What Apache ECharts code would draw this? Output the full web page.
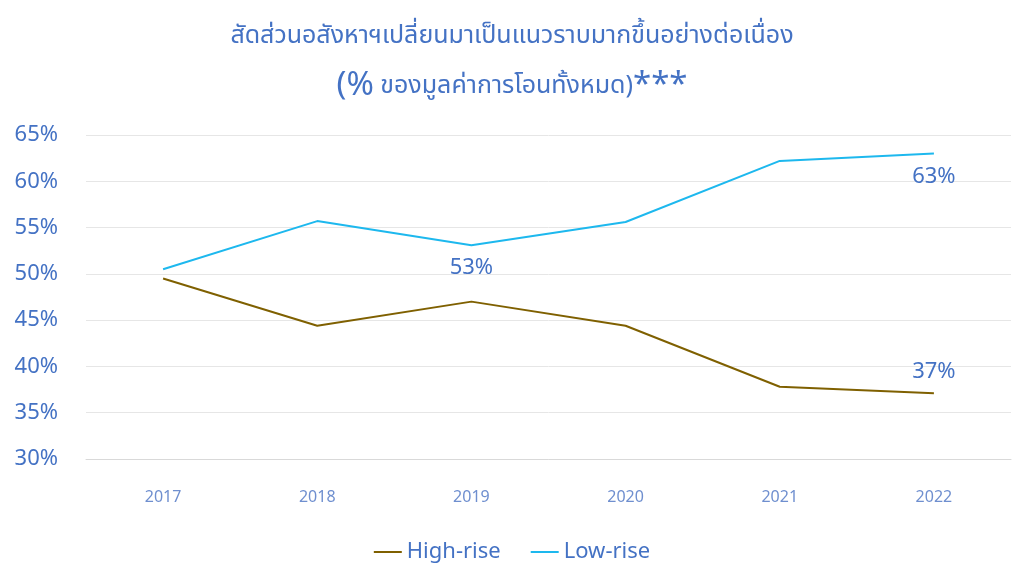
<!DOCTYPE html>
<html><head><meta charset="utf-8">
<script src="https://cdn.jsdelivr.net/npm/echarts@6/dist/echarts.min.js"></script>
<style>html,body{margin:0;background:#fff}#c{width:1024px;height:576px}</style></head>
<body><div id="c"></div>
<script>
const categories = ['2017','2018','2019','2020','2021','2022'];
const highRise = [49.5, 44.4, 47.0, 44.4, 37.8, 37.1];
const lowRise = [50.5, 55.7, 53.1, 55.6, 62.2, 63.0];
const blue = '#4472C4';
const font = '"Noto Sans","Noto Sans Thai",sans-serif';
const chart = echarts.init(document.getElementById('c'));
chart.setOption({
  animation:false,
  textStyle:{fontFamily:font},
  title:{
    text:'สัดส่วนอสังหาฯเปลี่ยนมาเป็นแนวราบมากขึ้นอย่างต่อเนื่อง\n{a|(%} {b|ของมูลค่าการโอนทั้งหมด)}{a|***}',
    left:'center', top:6,
    textStyle:{color:blue,fontSize:25,fontWeight:'normal',lineHeight:50,
      rich:{a:{fontSize:33,color:blue},b:{fontSize:25,color:blue}}}
  },
  legend:{bottom:8,itemWidth:28,itemHeight:2,itemGap:30,icon:'rect',
    textStyle:{color:blue,fontSize:22},data:['High-rise','Low-rise']},
  grid:{left:86,right:13,top:135,bottom:117,outerBoundsMode:'none',containLabel:false},
  xAxis:{type:'category',data:categories,boundaryGap:true,
    axisLine:{lineStyle:{color:'#d9d9d9'}},axisTick:{show:false},
    axisLabel:{color:'#6f8fcf',fontSize:16,margin:30}},
  yAxis:{type:'value',min:30,max:65,interval:5,
    axisLabel:{color:blue,fontSize:22,formatter:v=>v+'%',margin:28},
    splitLine:{lineStyle:{color:'#e6e6e6'}}},
  series:[
    {name:'High-rise',type:'line',data:highRise.map((v,i)=>({value:v,label:{show:i===5,position:'top',distance:10,formatter:'37%'}})),
      symbol:'circle',symbolSize:0.1,lineStyle:{color:'#7F6000',width:2},itemStyle:{color:'#7F6000'},
      label:{color:blue,fontSize:22}},
    {name:'Low-rise',type:'line',data:lowRise.map((v,i)=>({value:v,
      label:{show:i===2||i===5,position:'bottom',distance:12,formatter:i===2?'53%':'63%'}})),
      symbol:'circle',symbolSize:0.1,lineStyle:{color:'#1DB8EE',width:2},itemStyle:{color:'#1DB8EE'},
      label:{color:blue,fontSize:22}}
  ]
});
</script></body></html>
